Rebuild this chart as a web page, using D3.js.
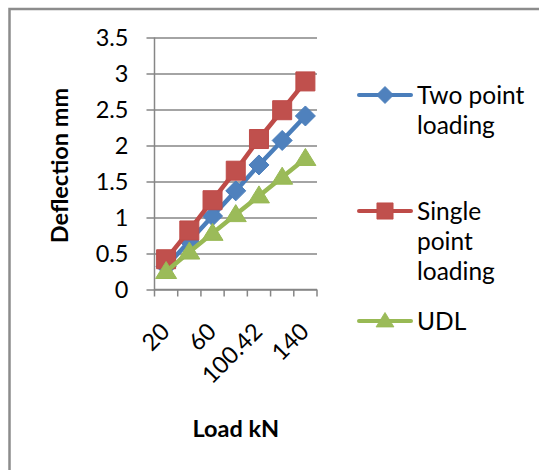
<!doctype html>
<html lang="en">
<head>
  <meta charset="utf-8">
  <title>Deflection vs Load</title>
  <script src="https://cdn.jsdelivr.net/npm/d3@7"></script>
  <style>
    body { margin: 0; background: #fff; }
    svg text { font-family: Lato, "Open Sans", sans-serif; fill: #000; }
  </style>
</head>
<body>
<svg id="chart" width="539" height="470"></svg>
<script>
  //
  // Data
  //
  var loads = ['20', '40', '60', '80', '100.42', '120', '140']
  var shownLoads = ['20', '60', '100.42', '140']
  var twoPoint = [0.32, 0.67, 1.02, 1.37, 1.73, 2.07, 2.41]
  var singlePoint = [0.42, 0.82, 1.24, 1.65, 2.09, 2.49, 2.89]
  var udl = [0.25, 0.52, 0.78, 1.04, 1.30, 1.56, 1.82]
  var yTicks = [0, 0.5, 1, 1.5, 2, 2.5, 3, 3.5]

  var series = [
    { name: ['Two point', 'loading'], values: twoPoint, line: '#4A7EBB', fill: '#4F81BD', shape: 'diamond', legendY: 95 },
    { name: ['Single', 'point', 'loading'], values: singlePoint, line: '#BE4B48', fill: '#C0504D', shape: 'square', legendY: 211 },
    { name: ['UDL'], values: udl, line: '#98B954', fill: '#9BBB59', shape: 'triangle', legendY: 321 }
  ]

  //
  // Layout
  //
  var plotLeft = 154.5, plotRight = 317, plotTop = 37.5, plotBottom = 289.5
  var gridColor = '#868686'

  var svg = d3.select('#chart')

  // outer chart border (only top/left visible in the crop)
  svg.append('rect')
    .attr('x', 9.5).attr('y', 9)
    .attr('width', 600).attr('height', 600)
    .attr('fill', '#fff')
    .attr('stroke', '#8c8c8c')
    .attr('stroke-width', 2.5)

  var x = d3.scaleBand().domain(loads).range([plotLeft, plotRight])
  var y = d3.scaleLinear().domain([0, 3.5]).range([plotBottom, plotTop])

  // gridlines + y ticks
  var yAxis = d3.axisLeft(y).tickValues(yTicks).tickSize(-(plotRight - plotLeft)).tickPadding(0)
    .tickFormat(d3.format('~g'))
  var gy = svg.append('g').attr('transform', 'translate(' + plotLeft + ',0)').call(yAxis)
  gy.select('.domain').remove()
  gy.selectAll('.tick line')
    .attr('x1', -8)
    .attr('stroke', gridColor).attr('stroke-width', 1.5)
  gy.selectAll('.tick text')
    .attr('x', -26)
    .attr('dy', '0.36em')
    .style('font-size', '23.5px')
    .style('font-family', 'Lato, sans-serif')

  // y axis line
  svg.append('line')
    .attr('x1', plotLeft).attr('x2', plotLeft)
    .attr('y1', plotTop).attr('y2', plotBottom + 0.5)
    .attr('stroke', gridColor).attr('stroke-width', 1.5)

  // x axis line and ticks at band edges
  svg.append('line')
    .attr('x1', plotLeft).attr('x2', plotRight)
    .attr('y1', plotBottom).attr('y2', plotBottom)
    .attr('stroke', gridColor).attr('stroke-width', 1.5)

  var edges = loads.map(function (d) { return x(d) }).concat([plotRight])
  svg.append('g').selectAll('line').data(edges).join('line')
    .attr('x1', function (d) { return d }).attr('x2', function (d) { return d })
    .attr('y1', plotBottom).attr('y2', plotBottom + 7)
    .attr('stroke', gridColor).attr('stroke-width', 1.5)

  // x labels, every other category, rotated
  svg.append('g').selectAll('text').data(shownLoads).join('text')
    .attr('transform', function (d) {
      return 'translate(' + (x(d) + x.bandwidth() / 2 + 5) + ',' + 333 + ') rotate(-45)'
    })
    .attr('text-anchor', 'end')
    .style('font-size', '23.5px')
    .text(function (d) { return d })

  // axis titles
  svg.append('text')
    .attr('transform', 'translate(68,' + ((plotTop + plotBottom) / 2 + 2) + ') rotate(-90)')
    .attr('text-anchor', 'middle')
    .style('font-size', '23.5px').style('font-weight', 700)
    .text('Deflection mm')

  svg.append('text')
    .attr('x', (plotLeft + plotRight) / 2).attr('y', 437)
    .attr('text-anchor', 'middle')
    .style('font-size', '23.5px').style('font-weight', 700)
    .text('Load kN')

  //
  // Series
  //
  function markerPath(shape) {
    if (shape === 'diamond') return 'M0,-10L10,0L0,10L-10,0Z'
    if (shape === 'square') return 'M-9.5,-9.5H9.5V9.5H-9.5Z'
    return 'M0,-10L10.5,7L-10.5,7Z'
  }

  var lineGen = d3.line()
    .x(function (d, i) { return x(loads[i]) + x.bandwidth() / 2 })
    .y(function (d) { return y(d) })

  series.forEach(function (s) {
    var g = svg.append('g')
    g.append('path')
      .attr('d', lineGen(s.values))
      .attr('fill', 'none')
      .attr('stroke', s.line)
      .attr('stroke-width', 4.5)
      .attr('stroke-linejoin', 'round')
      .attr('stroke-linecap', 'round')
    g.selectAll('path.m').data(s.values).join('path')
      .attr('class', 'm')
      .attr('d', markerPath(s.shape))
      .attr('transform', function (d, i) {
        return 'translate(' + (x(loads[i]) + x.bandwidth() / 2) + ',' + y(d) + ')'
      })
      .attr('fill', s.fill)
      .attr('stroke', s.line)
      .attr('stroke-width', 1)
  })

  //
  // Legend
  //
  var legend = svg.append('g')
  series.forEach(function (s) {
    var g = legend.append('g').attr('transform', 'translate(0,' + s.legendY + ')')
    g.append('line')
      .attr('x1', 359).attr('x2', 411)
      .attr('stroke', s.line).attr('stroke-width', 4)
      .attr('stroke-linecap', 'round')
    g.append('path')
      .attr('d', markerPath(s.shape))
      .attr('transform', 'translate(385,0) scale(0.85)')
      .attr('fill', s.fill)
      .attr('stroke', s.line)
    g.selectAll('text').data(s.name).join('text')
      .attr('x', 417)
      .attr('y', function (d, i) { return 9 + i * 30 })
      .style('font-size', '24.5px')
      .text(function (d) { return d })
  })
</script>
</body>
</html>
